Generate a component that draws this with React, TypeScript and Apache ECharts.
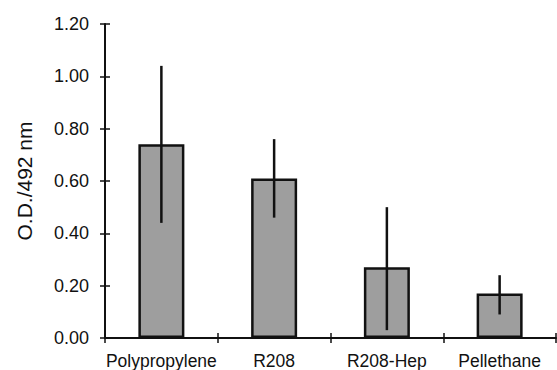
import React, { useEffect, useRef } from "react";
import * as echarts from "echarts";

const categories = ["Polypropylene", "R208", "R208-Hep", "Pellethane"];
const means = [0.74, 0.61, 0.27, 0.17];
const errLow = [0.44, 0.46, 0.03, 0.09];
const errHigh = [1.04, 0.76, 0.5, 0.24];
const yTicks = { min: 0, max: 1.2, interval: 0.2 };

export default function App() {
  const ref = useRef<HTMLDivElement>(null);
  useEffect(() => {
    if (!ref.current) return;
    const chart = echarts.init(ref.current, null, { renderer: "svg" });
    const font = "Liberation Sans";
    const errData = categories.map((_, i) => [i, errLow[i], errHigh[i]]);
    chart.setOption({
      animation: false,
      backgroundColor: "#fff",
      grid: { left: 105, right: 1, top: 24, bottom: 32 },
      xAxis: [
        {
          type: "category",
          data: categories,
          boundaryGap: true,
          axisLine: { lineStyle: { color: "#111", width: 2 } },
          axisTick: { show: true, length: 5, lineStyle: { color: "#111", width: 1.5 } },
          axisLabel: { color: "#111", fontFamily: font, fontSize: 17.5, margin: 14, interval: 0 },
        },
        {
          type: "category",
          data: categories,
          position: "bottom",
          boundaryGap: true,
          axisLine: { show: false },
          axisTick: { show: true, inside: true, length: 5, lineStyle: { color: "#111", width: 1.5 } },
          axisLabel: { show: false },
        },
      ],
      yAxis: [
        {
          type: "value",
          min: yTicks.min,
          max: yTicks.max,
          interval: yTicks.interval,
          name: "O.D./492 nm",
          nameLocation: "middle",
          nameGap: 70,
          nameTextStyle: { color: "#111", fontFamily: font, fontSize: 21 },
          axisLine: { show: true, lineStyle: { color: "#111", width: 2 } },
          axisTick: { show: true, length: 5, lineStyle: { color: "#111", width: 1.5 } },
          axisLabel: {
            color: "#111",
            fontFamily: font,
            fontSize: 18,
            margin: 16,
            formatter: (v: number) => v.toFixed(2),
          },
          splitLine: { show: false },
        },
        {
          type: "value",
          min: yTicks.min,
          max: yTicks.max,
          interval: yTicks.interval,
          position: "left",
          axisLine: { show: false },
          axisTick: { show: true, inside: true, length: 5, lineStyle: { color: "#111", width: 1.5 } },
          axisLabel: { show: false },
          splitLine: { show: false },
        },
      ],
      series: [
        {
          type: "bar",
          data: means,
          barWidth: 46,
          itemStyle: { color: "#9e9e9e", borderColor: "#111", borderWidth: 2.5 },
        },
        {
          type: "custom",
          data: errData,
          z: 5,
          renderItem: (params: any, api: any) => {
            const i = api.value(0);
            const lo = api.coord([i, api.value(1)]);
            const hi = api.coord([i, api.value(2)]);
            return {
              type: "line",
              shape: { x1: lo[0], y1: lo[1], x2: hi[0], y2: hi[1] },
              style: { stroke: "#111", lineWidth: 2.5 },
            };
          },
        },
      ],
    });
    return () => chart.dispose();
  }, []);
  return (
    <div
      ref={ref}
      style={{ position: "absolute", left: 0, top: 0, width: 557, height: 370 }}
    />
  );
}
